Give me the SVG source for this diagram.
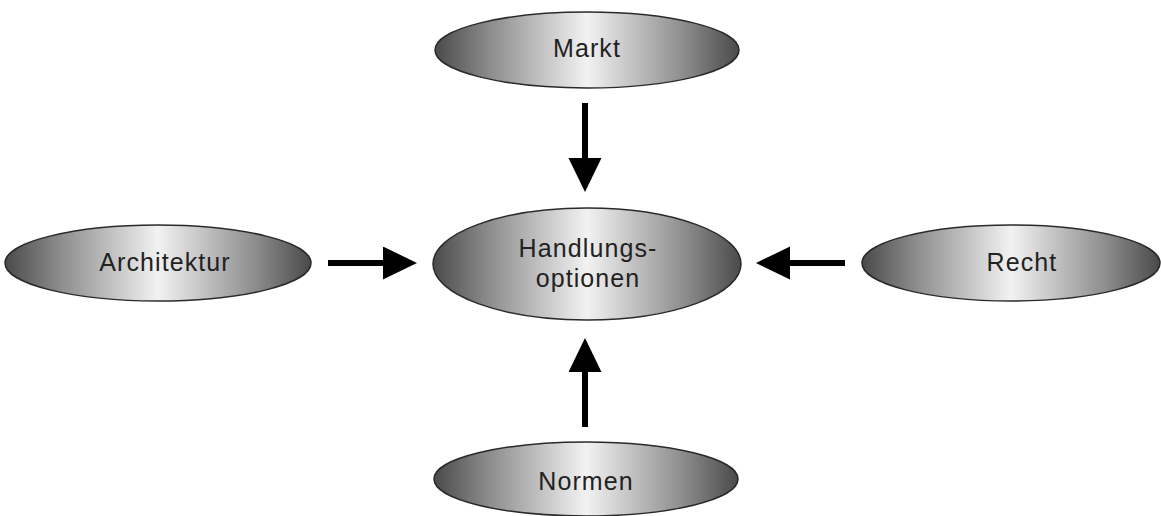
<svg xmlns="http://www.w3.org/2000/svg" width="1161" height="516" viewBox="0 0 1161 516">
<style>
.node ellipse{fill:url(#g);stroke:#2a2a2a;stroke-width:1.5}
.node text{font-family:"Liberation Sans",Arial,sans-serif;font-size:25px;letter-spacing:1.1px;fill:#222;text-anchor:middle}
.conn line{stroke:#000;stroke-width:6;marker-end:url(#ah)}
</style>
<defs>
<linearGradient id="g" x1="0" y1="0" x2="1" y2="0">
<stop offset="0" stop-color="#4a4a4a"/>
<stop offset="0.18" stop-color="#8c8c8c"/>
<stop offset="0.5" stop-color="#f2f2f2"/>
<stop offset="0.82" stop-color="#8c8c8c"/>
<stop offset="1" stop-color="#4a4a4a"/>
</linearGradient>
<marker id="ah" markerUnits="userSpaceOnUse" markerWidth="36" markerHeight="34" refX="0" refY="16.5" orient="auto" viewBox="0 0 36 34">
<path d="M0,0 L34,16.5 L0,33 z" fill="#000"/>
</marker>
</defs>
<rect width="1161" height="516" fill="#fff"/>
<g id="markt" class="node"><ellipse cx="587" cy="50" rx="152" ry="38"/><text x="587" y="57">Markt</text></g>
<g id="architektur" class="node"><ellipse cx="158" cy="263" rx="153" ry="38"/><text x="165" y="271">Architektur</text></g>
<g id="handlungsoptionen" class="node"><ellipse cx="587" cy="264" rx="154" ry="56"/><text x="588" y="257">Handlungs-</text><text x="588" y="287">optionen</text></g>
<g id="recht" class="node"><ellipse cx="1011" cy="263" rx="149" ry="38"/><text x="1022" y="271">Recht</text></g>
<g id="normen" class="node"><ellipse cx="586" cy="479" rx="152" ry="37"/><text x="586" y="490">Normen</text></g>
<g id="connectors" class="conn">
<line x1="585" y1="103" x2="585" y2="158"/>
<line x1="328" y1="263" x2="383" y2="263"/>
<line x1="845" y1="263" x2="790" y2="263"/>
<line x1="585" y1="427" x2="585" y2="372"/>
</g>
</svg>
